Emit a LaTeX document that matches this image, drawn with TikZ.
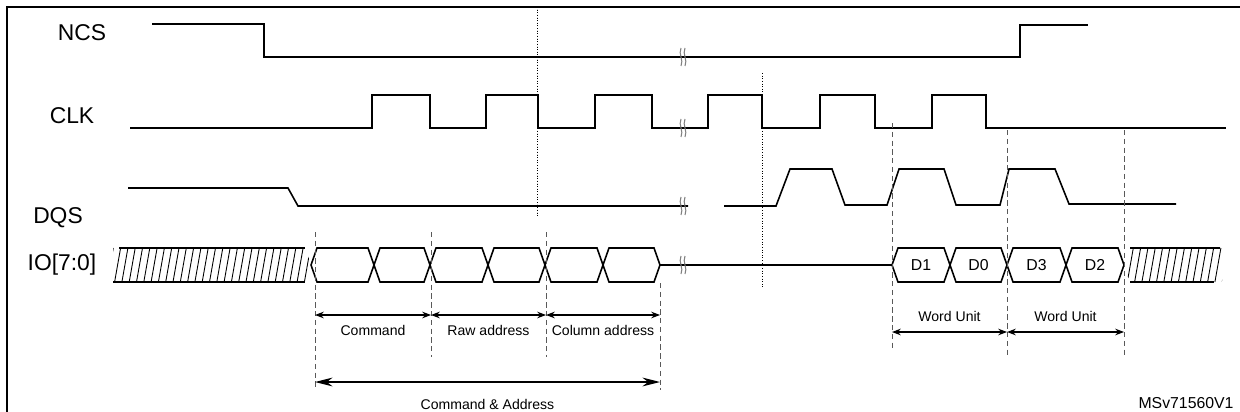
\documentclass[tikz,border=0pt]{standalone}
\usepackage{fontspec}
\setmainfont{Liberation Sans}
\usetikzlibrary{arrows.meta}
\tikzset{
  sig/.style={line width=0.9pt},
  signame/.style={font=\fontsize{13}{13}\selectfont},
  small/.style={font=\fontsize{8}{8}\selectfont},
  guide/.style={densely dashed,line width=0.4pt,gray!70!black},
  dotguide/.style={densely dotted,line width=0.5pt},
  span/.style={{Stealth[length=5pt]}-{Stealth[length=5pt]},line width=0.6pt},
}
\newcommand{\brk}[1]{% break sign on a line
  \foreach \d in {-2,2}
    \draw[gray,line width=0.6pt] (#1+\d,-9) .. controls (#1+\d-3,-3) and (#1+\d+3,3) .. (#1+\d,9);}
\begin{document}
\begin{tikzpicture}[x=0.02cm,y=-0.02cm]
  \useasboundingbox (0,0) rectangle (1240,412);
  % Rahmen
  \draw[line width=1pt] (7,440) -- (7,7) -- (1260,7);
  % Signalnamen
  \node[signame] (ncs) at (82,33) {NCS};
  \node[signame] (clk) at (72,116) {CLK};
  \node[signame] (dqs) at (58,218) {DQS};
  \node[signame] (io) at (62,265) {IO[7:0]};
  % NCS
  \draw[sig] (152,24) -- (264,24) -- (264,57) -- (1020,57) -- (1020,25) -- (1088,25);
  % CLK
  \draw[sig] (130,128) -- (372,128) -- (372,95) -- (430,95) -- (430,128) -- (486,128) -- (486,95)
    -- (538,95) -- (538,128) -- (595,128) -- (595,95) -- (652,95) -- (652,128) -- (708,128) -- (708,95)
    -- (762,95) -- (762,128) -- (820,128) -- (820,95) -- (875,95) -- (875,128) -- (932,128) -- (932,95)
    -- (986,95) -- (986,128) -- (1226,128);
  % DQS
  \draw[sig] (128,188) -- (288,188) -- (298,206) -- (688,206);
  \draw[sig] (724,206) -- (776,206) -- (790,169) -- (832,169) -- (845,205) -- (887,205) -- (899,169)
    -- (944,169) -- (956,205) -- (1000,205) -- (1009,169) -- (1055,169) -- (1069,204) -- (1176,204);
  % IO Bus
  \begin{scope}
    \clip (113,247) -- (305,247) -- (311,265) -- (305,283) -- (113,283) -- cycle;
    \foreach \x in {100,107.3,...,320}
      \draw[line width=0.5pt] (\x,282) -- (\x+6,248);
  \end{scope}
  \draw[sig] (119,248) -- (305,248) (113,282) -- (305,282);
  \foreach \a/\b in {311/374,374/430,430/488,488/545,545/603,603/660}
    \draw[sig] (\a,265) -- (\a+6,248) -- (\b-6,248) -- (\b,265) -- (\b-6,282) -- (\a+6,282) -- cycle;
  \draw[sig] (660,265) -- (892,265);
  \foreach \a/\b/\t in {892/950/D1,950/1007/D0,1007/1066/D3,1066/1124/D2}{
    \draw[sig] (\a,265) -- (\a+6,248) -- (\b-6,248) -- (\b,265) -- (\b-6,282) -- (\a+6,282) -- cycle;
    \node[font=\fontsize{9}{9}\selectfont] at ({(\a+\b)/2},265) {\t};}
  \begin{scope}
    \clip (1124,265) -- (1130,247) -- (1222,247) -- (1222,283) -- (1130,283) -- cycle;
    \foreach \x in {1120,1127.3,...,1230}
      \draw[line width=0.5pt] (\x,282) -- (\x+6,248);
  \end{scope}
  \draw[sig] (1130,248) -- (1220,248) (1130,282) -- (1214,282);
  % Unterbrechungen
  \foreach \y in {57,128,206,265}
    \begin{scope}[shift={(683,\y)}] \brk{0} \end{scope}
  % Hilfslinien
  \draw[dotguide] (537,7) -- (537,217);
  \draw[dotguide] (762,73) -- (762,287);
  \coordinate (c0) at (315,315); \coordinate (c1) at (431,315);
  \coordinate (c2) at (546,315); \coordinate (c3) at (660,315);
  \coordinate (a0) at (315,382); \coordinate (a1) at (660,382);
  \coordinate (w0) at (892,332); \coordinate (w1) at (1007,332); \coordinate (w2) at (1124,332);
  \draw[guide] (315,232) -- (315,387);
  \draw[guide] (431,232) -- (431,357);
  \draw[guide] (546,232) -- (546,357);
  \draw[guide] (660,283) -- (660,390);
  \draw[guide] (892,123) -- (892,350);
  \draw[guide] (1007,130) -- (1007,357);
  \draw[guide] (1124,130) -- (1124,357);
  % Bereiche
  \draw[span] (c0) -- (c1) node[small,midway,below=2pt] {Command};
  \draw[span] (c1) -- (c2) node[small,midway,below=2pt] {Raw address};
  \draw[span] (c2) -- (c3) node[small,midway,below=2pt] {Column address};
  \draw[{Stealth[length=10pt,width=5pt]}-{Stealth[length=10pt,width=5pt]},line width=0.8pt] (a0) -- (a1)
    node[small,midway,below=6pt] {Command \& Address};
  \draw[span] (w0) -- (w1) node[small,midway,above=2pt] {Word Unit};
  \draw[span] (w1) -- (w2) node[small,midway,above=2pt] {Word Unit};
  \node[font=\fontsize{9}{9}\selectfont] (id) at (1186,403) {MSv71560V1};
\end{tikzpicture}
\end{document}
